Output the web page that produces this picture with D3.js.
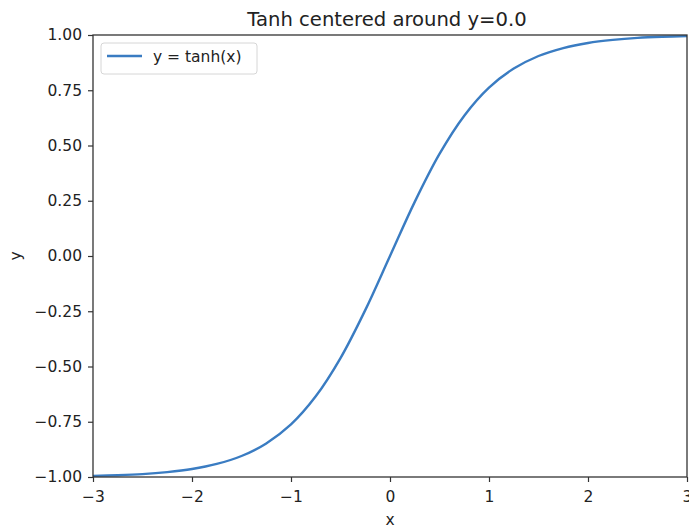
<!DOCTYPE html>
<html>
<head>
<meta charset="utf-8">
<script src="https://cdn.jsdelivr.net/npm/d3@7"></script>
<style>
  html, body { margin: 0; padding: 0; background: #fff; }
  svg { display: block; }
  text { font-family: "DejaVu Sans", sans-serif; fill: #222; }
</style>
</head>
<body>
<svg id="chart" width="689" height="525"></svg>
<script>
// Sampled points of the curve y = tanh(x)
const xValues = [-3, -2.75, -2.5, -2.25, -2, -1.75, -1.5, -1.25, -1, -0.75, -0.5, -0.25,
                 0, 0.25, 0.5, 0.75, 1, 1.25, 1.5, 1.75, 2, 2.25, 2.5, 2.75, 3];
const yValues = [-0.995, -0.992, -0.987, -0.978, -0.964, -0.941, -0.905, -0.848, -0.762, -0.635, -0.462, -0.245,
                 0, 0.245, 0.462, 0.635, 0.762, 0.848, 0.905, 0.941, 0.964, 0.978, 0.987, 0.992, 0.995];
const xTicks = [-3, -2, -1, 0, 1, 2, 3];
const yTicks = [-1, -0.75, -0.5, -0.25, 0, 0.25, 0.5, 0.75, 1];
const seriesLabel = "y = tanh(x)";
const titleText = "Tanh centered around y=0.0";

const svg = d3.select("#chart");
const margin = { left: 93, right: 2, top: 35, bottom: 48 };
const W = 689, H = 525;

const x = d3.scaleLinear().domain([-3, 3]).range([margin.left, W - margin.right]);
const y = d3.scaleLinear().domain([-1, 1]).range([H - margin.bottom, margin.top]);

const fmtMinus = s => s.replace("-", "\u2212");

// Curve
const points = xValues.map((v, i) => [v, yValues[i]]);
const line = d3.line().x(d => x(d[0])).y(d => y(d[1])).curve(d3.curveCatmullRom.alpha(0.5));
svg.append("path")
  .datum(points)
  .attr("d", line)
  .attr("fill", "none")
  .attr("stroke", "#3a7cc2")
  .attr("stroke-width", 2.4)
  .attr("stroke-linejoin", "round");

// Frame
svg.append("rect")
  .attr("x", x(-3)).attr("y", y(1))
  .attr("width", x(3) - x(-3)).attr("height", y(-1) - y(1))
  .attr("fill", "none").attr("stroke", "#333").attr("stroke-width", 1.3);

// Axes
const xAxis = d3.axisBottom(x).tickValues(xTicks).tickSize(5).tickPadding(9)
  .tickFormat(d => fmtMinus(d3.format("d")(d)));
const gx = svg.append("g").attr("transform", `translate(0,${y(-1)})`).call(xAxis);

const yAxis = d3.axisLeft(y).tickValues(yTicks).tickSize(5).tickPadding(6)
  .tickFormat(d => fmtMinus(d3.format(".2f")(d)));
const gy = svg.append("g").attr("transform", `translate(${x(-3)},0)`).call(yAxis);

[gx, gy].forEach(g => {
  g.select(".domain").remove();
  g.selectAll(".tick line").attr("stroke", "#333").attr("stroke-width", 1.2);
  g.selectAll(".tick text").attr("font-size", 15.5).attr("font-family", "DejaVu Sans").attr("fill", "#222");
});

// Title and axis labels
svg.append("text").attr("x", (x(-3) + x(3)) / 2 - 3).attr("y", 26)
  .attr("text-anchor", "middle").attr("font-size", 19.6).text(titleText);
svg.append("text").attr("x", (x(-3) + x(3)) / 2).attr("y", 525)
  .attr("text-anchor", "middle").attr("font-size", 15.5).text("x");
svg.append("text").attr("transform", `translate(21,${(y(-1) + y(1)) / 2}) rotate(-90)`)
  .attr("text-anchor", "middle").attr("font-size", 15.5).text("y");

// Legend
const lg = svg.append("g").attr("transform", `translate(101,43)`);
lg.append("rect").attr("width", 156).attr("height", 31).attr("rx", 3)
  .attr("fill", "#fff").attr("fill-opacity", 0.8).attr("stroke", "#d6d6d6");
lg.append("line").attr("x1", 6).attr("x2", 41).attr("y1", 13).attr("y2", 13)
  .attr("stroke", "#3a7cc2").attr("stroke-width", 2.4);
lg.append("text").attr("x", 52).attr("y", 19).attr("font-size", 15.5).text(seriesLabel);
</script>
</body>
</html>
